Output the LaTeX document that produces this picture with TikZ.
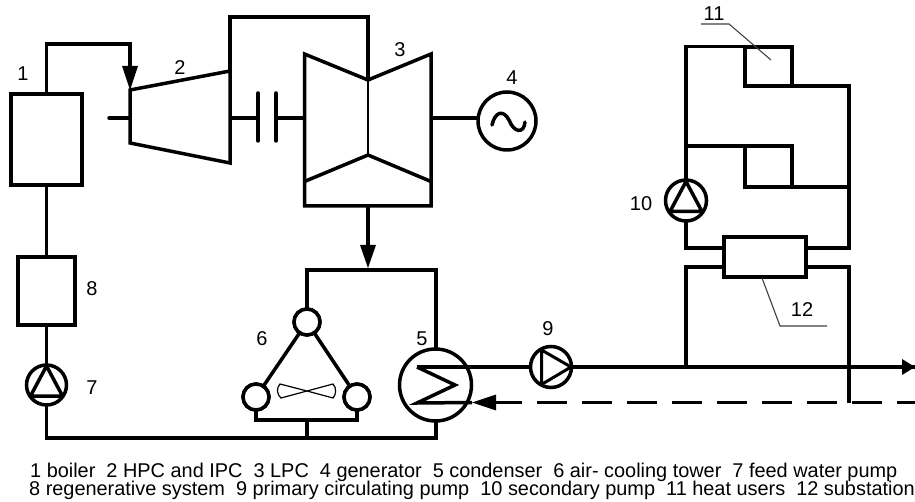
\documentclass[tikz,border=0pt]{standalone}
\usepackage{fontspec}
\setmainfont{Liberation Sans}
\usetikzlibrary{arrows.meta,calc}
\tikzset{
  pipe/.style={line width=3.5pt,line join=miter,line cap=butt},
  thinline/.style={line width=1.1pt,draw=black!75},
  unit/.style={draw,line width=3.5pt,rectangle,inner sep=0pt,outer sep=0pt,fill=white},
  ring/.style={draw,line width=3.5pt,circle,inner sep=0pt,outer sep=0pt,fill=white},
  tag/.style={font=\fontsize{20}{20}\selectfont,inner sep=0pt},
  legend/.style={font=\fontsize{19.9}{20}\selectfont,inner sep=0pt,anchor=base west},
}
\newcommand{\pumpup}[1]{%
  \draw[line width=3.5pt,line join=round] ($(#1)+(0,-19)$) -- ($(#1)+(-16,11)$) -- ($(#1)+(16,11)$) -- cycle;}
\begin{document}
\begin{tikzpicture}[x=1pt,y=-1pt]
\useasboundingbox (0,0) rectangle (915,502);
% junctions and free ends
\coordinate (t2a) at (130,90);
\coordinate (t2b) at (230,71);
\coordinate (t2c) at (230,163);
\coordinate (t2d) at (130,143);
\coordinate (stub) at (109,118);
\coordinate (stubr) at (130,118);
\coordinate (t2s) at (230,118);
\coordinate (c1) at (258,118);
\coordinate (c2) at (276,118);
\coordinate (t3l) at (304.5,118);
\coordinate (t3r) at (431,118);
\coordinate (t3in) at (368,80);
\coordinate (t3low) at (368,155);
\coordinate (t3out) at (368,206);
\coordinate (busL) at (46.5,438);
\coordinate (busT) at (307,438);
\coordinate (busR) at (436,438);
\coordinate (brT) at (307,420);
\coordinate (j1) at (686,367);
\coordinate (j2) at (849,367);
\coordinate (j3) at (849,402.5);
\coordinate (hotEnd) at (917,367);
\coordinate (coldEnd) at (915,402.5);
\coordinate (coilA) at (417,367);
\coordinate (coilB) at (455,385);
\coordinate (coilC) at (417,403);
\coordinate (tipCold) at (472,402.5);
\coordinate (baseCold) at (492,402.5);
% boxes
\node[unit,minimum width=71pt,minimum height=91pt] (boiler) at (46.5,139.5) {};
\node[unit,minimum width=57pt,minimum height=68pt] (regen) at (46.5,291) {};
\node[ring,minimum size=40pt] (p7) at (46.5,385) {};
\node[ring,minimum size=58pt] (gen) at (507,121) {};
\node[ring,minimum size=26pt] (cA) at (307,322) {};
\node[ring,minimum size=26pt] (cB) at (256,397) {};
\node[ring,minimum size=26pt] (cC) at (357,397) {};
\node[ring,minimum size=72pt] (cond) at (435.5,385) {};
\node[ring,minimum size=41pt] (p9) at (551,367) {};
\node[ring,minimum size=41pt] (p10) at (686,200.5) {};
\node[unit,minimum width=47pt,minimum height=39pt,fill=none] (u1) at (768.5,66.5) {};
\node[unit,minimum width=47pt,minimum height=41pt,fill=none] (u2) at (768.5,166.5) {};
\node[unit,minimum width=82pt,minimum height=40pt] (sub) at (765,257) {};
% boiler circuit
\draw[pipe] (boiler.south) -- (regen.north);
\draw[pipe] (regen.south) -- (p7.north);
\draw[pipe] (p7.south) -- (busL) -- (busR) -- (cond.south -| busR);
\draw[pipe] (boiler.north) |- (130,44) -- (130,68);
\fill (t2a) -- (122,66) -- (138,66) -- cycle;
% HP turbine
\draw[pipe] (t2a) -- (t2b) -- (t2c) -- (t2d) -- cycle;
\draw[pipe,line cap=round] (stub) -- (stubr);
\draw[pipe] (t2b) -- (230,17) -| (t3in);
\draw[pipe] (t2s) -- (c1);
\draw[pipe] (c2) -- (t3l);
\draw[pipe,line cap=round] (258,93) -- (258,141);
\draw[pipe,line cap=round] (276,93) -- (276,141);
% LP turbine
\draw[pipe] (304.5,54) -- (t3in) -- (431,54) -- (431,206) -- (304.5,206) -- cycle;
\draw[pipe] (304.5,181.5) -- (t3low) -- (431,181.5);
\draw[line width=1.6pt] (t3in) -- (t3low);
\draw[pipe] (t3r) -- (gen.west |- t3r);
\draw[pipe,line cap=round] (492,125) .. controls (495,112) and (503,109) .. (509,120) .. controls (514,133) and (524,134) .. (525,122);
% exhaust
\draw[pipe] (t3out) -- (368,246);
\fill (368,268) -- (360,245) -- (376,245) -- cycle;
\draw[pipe] (cA.north) |- (436,270) -- (436,350);
% air cooler
\draw[pipe] (cA) -- (cB);
\draw[pipe] (cA) -- (cC);
\node[ring,minimum size=26pt] at (cA) {};
\node[ring,minimum size=26pt] at (cB) {};
\node[ring,minimum size=26pt] at (cC) {};
\draw[pipe] (cB.south) |- (brT) -| (cC.south);
\draw[pipe] (brT) -- (busT);
\draw[line width=1.2pt,fill=white] (307,391) -- (280,384) .. controls (276,388) and (277,395) .. (281,398) -- (307,391) -- (333,384) .. controls (337,388) and (336,395) .. (333,398) -- cycle;
% condenser coil
\draw[pipe] (coilA) -- (coilB) -- (coilC) -- (tipCold);
\draw[pipe] (coilA) -- (p9.west);
\draw[pipe] (p9.east) -- (hotEnd);
\fill (915,367) -- (902,359) -- (902,375) -- cycle;
\fill (tipCold) -- (496,394.5) -- (496,410.5) -- cycle;
\draw[pipe,dash pattern=on 30pt off 15pt] (baseCold) -- (coldEnd);
% pump glyphs
\pumpup{p7}
\pumpup{p10}
\draw[line width=3pt,line join=round] (541.5,350) -- (571,367) -- (541.5,384.5) -- cycle;
% district circuit
\draw[pipe] (j1) -- (686,267) -- (sub.west |- 686,267);
\draw[pipe] (j3) -- (849,267) -- (sub.east |- 849,267);
\draw[pipe] (p10.north) -- (686,46.5) -- (745,46.5);
\draw[pipe] (686,146) -- (745,146);
\draw[pipe] (u1.south east) -- (849,86) -- (849,248) -- (sub.east |- 849,248);
\draw[pipe] (u2.south east) -- (849,187);
\draw[pipe] (p10.south) -- (686,248) -- (sub.west |- 686,248);
% leaders
\draw[thinline] (701,24) -- (729,24) -- (771,60);
\draw[thinline] (762,278) -- (780,326) -- (827,326);
% labels
\node[tag] (n1) at (23,74) {1};
\node[tag] (n2) at (180,68) {2};
\node[tag] (n3) at (400,50) {3};
\node[tag] (n4) at (512,78) {4};
\node[tag] (n5) at (422,339) {5};
\node[tag] (n6) at (262,339) {6};
\node[tag] (n7) at (92,388) {7};
\node[tag] (n8) at (92,289) {8};
\node[tag] (n9) at (548,329) {9};
\node[tag] (n10) at (641,204) {10};
\node[tag] (n11) at (714,14) {11};
\node[tag] (n12) at (802,310) {12};
\node[legend] (l1) at (30,477) {1 boiler\ \ 2 HPC and IPC\ \ 3 LPC\ \ 4 generator\ \ 5 condenser\ \ 6 air- cooling tower\ \ 7 feed water pump};
\node[legend] (l2) at (29,495) {8 regenerative system\ \ 9 primary circulating pump\ \ 10 secondary pump\ \ 11 heat users\ \ 12 substation};
\end{tikzpicture}
\end{document}
